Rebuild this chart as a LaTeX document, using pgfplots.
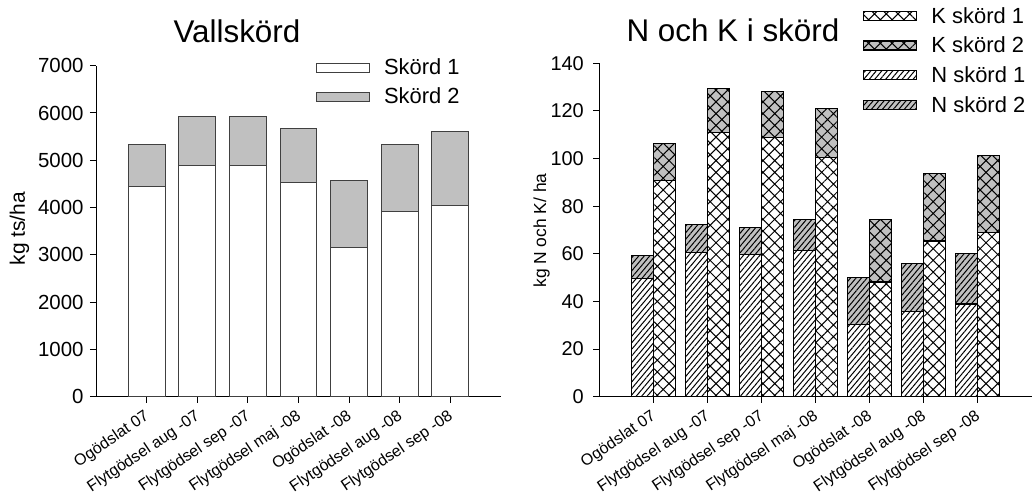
\documentclass[border=0pt]{standalone}
\usepackage{fontspec}
\setmainfont{Liberation Sans}
\usepackage{pgfplots}
\usepackage{pgfplotstable}
\pgfplotsset{compat=1.18}
\usetikzlibrary{patterns.meta}

\definecolor{grayfill}{RGB}{192,192,192}
\definecolor{edge}{RGB}{64,64,64}

\tikzset{
  nhatch/.style={postaction={pattern={Lines[angle=50,distance=4.2bp,line width=1bp]}}},
  khatch/.style={postaction={pattern={Hatch[angle=45,distance=8.3bp,line width=1bp]}}},
}

% left: dry matter yield, kg ts/ha
\pgfplotstableread{
x s1   s2
0 4440 890
1 4880 1050
2 4880 1050
3 4520 1160
4 3160 1410
5 3915 1415
6 4040 1565
}\vall

% right: N, kg/ha
\pgfplotstableread{
x n1   n2
0 49.7 9.7
1 60.5 11.9
2 59.6 11.4
3 61.3 13.0
4 30.4 19.7
5 35.7 20.3
6 38.9 21.3
}\kvave

% right: K, kg/ha
\pgfplotstableread{
x k1    k2
0 90.9  15.5
1 110.9 18.5
2 108.9 19.3
3 100.5 20.5
4 48.2  26.3
5 65.4  28.4
6 68.9  32.5
}\kalium

\pgfplotsset{
  patch legend/.style={legend image code/.code={
      \draw[##1] (0bp,-4.5bp) rectangle (53bp,4.5bp);}},
  common/.style={
    scale only axis,
    xmin=-1, xmax=7, ymin=0,
    axis lines=left,
    axis line style={-, line width=1bp, black},
    tick align=outside,
    major tick length=6bp,
    tick style={line width=1bp, black},
    xtick={0,...,6},
    xticklabels={Ogödslat 07, Flytgödsel aug -07, Flytgödsel sep -07,
      Flytgödsel maj -08, Ogödslat -08, Flytgödsel aug -08, Flytgödsel sep -08},
    xticklabel style={yshift=-5bp, xshift=-3bp, rotate=34, anchor=north east,
      inner sep=1bp, font=\fontsize{16}{16}\selectfont},
    /pgf/number format/assume math mode=true,
    /pgf/number format/1000 sep={},
    legend cell align=left,
  },
}

\begin{document}
\begin{tikzpicture}
\path[use as bounding box] (0,0) rectangle (1033bp,501bp);

\begin{axis}[common,
  at={(96bp,104.3bp)}, anchor=south west,
  width=405bp, height=331bp,
  ymax=7000, ytick={0,1000,...,7000},
  yticklabel style={font=\fontsize{20.5}{20.5}\selectfont, xshift=-3bp},
  ybar stacked, bar width=0.73,
  title={Vallskörd},
  title style={at={(axis description cs:0.348,1)}, anchor=base, yshift=17.5bp,
    font=\fontsize{31.5}{31.5}\selectfont},
  ylabel={kg ts/ha},
  ylabel style={at={(axis description cs:-0.189,0.5075)}, anchor=center,
    font=\fontsize{21}{21}\selectfont},
  legend style={at={(axis description cs:0.543,1.021)}, anchor=north west,
    draw=none, fill=none, inner sep=0pt, nodes={inner sep=0pt},
    column sep=14bp, row sep=11.6bp, font=\fontsize{22}{22}\selectfont},
]
\addplot[patch legend, draw=edge, line width=1bp, fill=white] table[x=x, y=s1] {\vall};
\addlegendentry{Skörd 1}
\addplot[patch legend, draw=edge, line width=1bp, fill=grayfill] table[x=x, y=s2] {\vall};
\addlegendentry{Skörd 2}
\end{axis}

\begin{axis}[common,
  at={(599.3bp,104.3bp)}, anchor=south west,
  width=432.4bp, height=333.4bp,
  ymax=140, ytick={0,20,...,140},
  yticklabel style={font=\fontsize{20}{20}\selectfont, xshift=-6bp},
  ybar stacked, bar width=0.41,
  axis line style={-, line width=1.3bp, black},
  title={N och K i skörd},
  title style={at={(axis description cs:0.309,1)}, anchor=base, yshift=16bp,
    font=\fontsize{31.5}{31.5}\selectfont},
  ylabel={kg N och K/ ha},
  ylabel style={at={(axis description cs:-0.1337,0.4985)}, anchor=center,
    font=\fontsize{17.5}{17.5}\selectfont},
  legend style={at={(axis description cs:0.61,1.169)}, anchor=north west,
    draw=none, fill=none, inner sep=0pt, nodes={inner sep=0pt},
    column sep=14bp, row sep=12.3bp, font=\fontsize{22}{22}\selectfont},
]
\addlegendimage{patch legend, draw=black, line width=1.2bp, fill=white, khatch}
\addlegendentry{K skörd 1}
\addlegendimage{patch legend, draw=black, line width=1.2bp, fill=grayfill, khatch}
\addlegendentry{K skörd 2}
\addplot[patch legend, bar shift=-0.205, draw=black, line width=1.2bp, fill=white, nhatch]
  table[x=x, y=n1] {\kvave};
\addlegendentry{N skörd 1}
\addplot[patch legend, bar shift=-0.205, draw=black, line width=1.2bp, fill=grayfill, nhatch]
  table[x=x, y=n2] {\kvave};
\addlegendentry{N skörd 2}
\end{axis}

\begin{axis}[
  scale only axis, hide axis,
  at={(599.3bp,104.3bp)}, anchor=south west,
  width=432.4bp, height=333.4bp,
  xmin=-1, xmax=7, ymin=0, ymax=140,
  ybar stacked, bar width=0.41,
]
\addplot[bar shift=0.205, draw=black, line width=1.2bp, fill=white, khatch]
  table[x=x, y=k1] {\kalium};
\addplot[bar shift=0.205, draw=black, line width=1.2bp, fill=grayfill, khatch]
  table[x=x, y=k2] {\kalium};
\end{axis}
\end{tikzpicture}
\end{document}
